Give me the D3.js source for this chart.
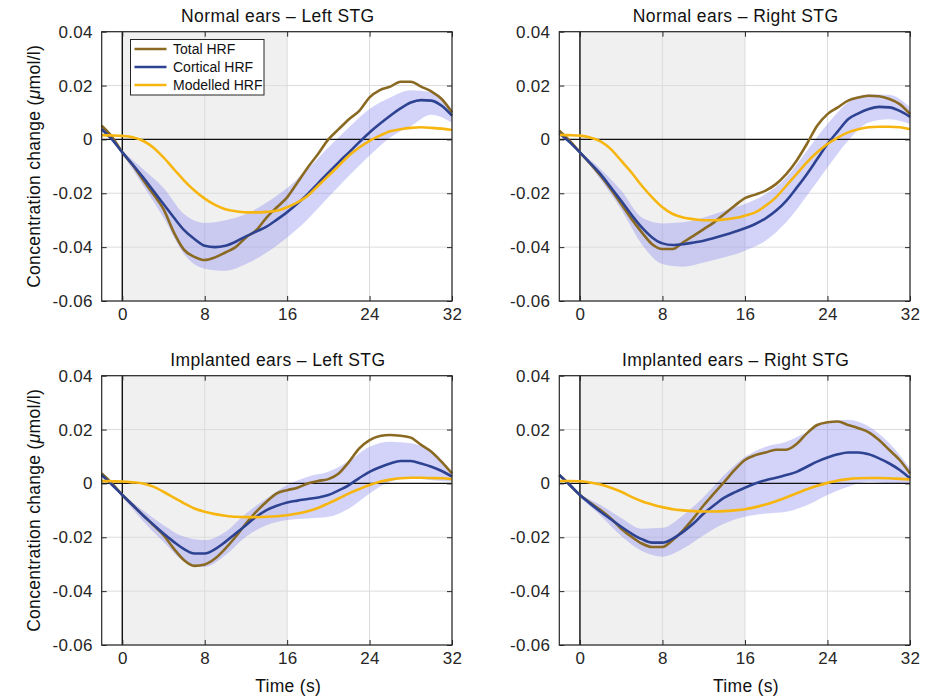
<!DOCTYPE html>
<html>
<head>
<meta charset="utf-8">
<script src="https://cdn.jsdelivr.net/npm/d3@7"></script>
<style>
  html, body { margin: 0; padding: 0; background: #fff; }
  svg { display: block; font-family: "Liberation Sans", Arial, sans-serif; }
</style>
</head>
<body>
<svg id="chart" width="938" height="697"></svg>
<script>
// Haemodynamic response functions, [time (s), concentration change (µmol/l)]
const xTicks = [0, 8, 16, 24, 32];
const yTicks = [-0.06, -0.04, -0.02, 0, 0.02, 0.04];
const stimulus = [0, 16];
const seriesNames = ["Total HRF", "Cortical HRF", "Modelled HRF"];
const titles = ["Normal ears \u2013 Left STG", "Normal ears \u2013 Right STG",
                "Implanted ears \u2013 Left STG", "Implanted ears \u2013 Right STG"];

// Normal ears, left STG
const nlTotal = [[-2,0.0051],[-1,0.001],[0,-0.0048],[1,-0.0095],[2,-0.015],[3,-0.0203],[4,-0.0259],[5,-0.0345],[6,-0.041],[7,-0.0436],[8,-0.0448],[9,-0.0438],[10,-0.042],[11,-0.040],[12,-0.0364],[13,-0.0337],[14,-0.029],[15,-0.0252],[16,-0.0215],[17,-0.016],[18,-0.0104],[19,-0.0054],[20,0.0],[21,0.0038],[22,0.0075],[23,0.0106],[24,0.0156],[25,0.0183],[26,0.0196],[27,0.0214],[28,0.0214],[29,0.0196],[30,0.0178],[31,0.015],[32,0.010]];
const nlCortical = [[-2,0.0038],[-1,0.0],[0,-0.0048],[1,-0.0093],[2,-0.014],[3,-0.019],[4,-0.024],[5,-0.029],[6,-0.0337],[7,-0.037],[8,-0.0395],[9,-0.040],[10,-0.0395],[11,-0.038],[12,-0.036],[13,-0.0342],[14,-0.0324],[15,-0.0298],[16,-0.027],[17,-0.0238],[18,-0.0203],[19,-0.0163],[20,-0.0123],[21,-0.0085],[22,-0.0048],[23,-0.001],[24,0.0026],[25,0.0058],[26,0.0088],[27,0.0115],[28,0.0137],[29,0.0146],[30,0.0144],[31,0.0125],[32,0.0088]];
const nlBand = [[-2,0.0033,0.0043],[0,-0.0055,-0.004],[2,-0.017,-0.011],[4,-0.029,-0.018],[6,-0.0426,-0.0277],[8,-0.048,-0.031],[10,-0.0488,-0.030],[12,-0.0463,-0.0277],[14,-0.042,-0.0234],[16,-0.0364,-0.018],[18,-0.0296,-0.011],[20,-0.0215,-0.003],[22,-0.0135,0.0045],[24,-0.006,0.0113],[26,0.0007,0.0156],[28,0.005,0.0183],[30,0.0092,0.0175],[32,0.0062,0.0113]];
const nlModel = [[-2,0.0016],[-1,0.0015],[0,0.0013],[1,0.0008],[2,-0.0005],[3,-0.003],[4,-0.0067],[5,-0.011],[6,-0.0153],[7,-0.019],[8,-0.022],[9,-0.0243],[10,-0.0259],[11,-0.0267],[12,-0.0271],[13,-0.0271],[14,-0.0269],[15,-0.0265],[16,-0.0252],[17,-0.0234],[18,-0.0209],[19,-0.0172],[20,-0.0135],[21,-0.0098],[22,-0.006],[23,-0.003],[24,-0.0005],[25,0.0014],[26,0.003],[27,0.0038],[28,0.0043],[29,0.0045],[30,0.0043],[31,0.004],[32,0.0035]];

// Normal ears, right STG
const nrTotal = [[-2,0.0032],[-1,-0.0005],[0,-0.0048],[1,-0.009],[2,-0.0135],[3,-0.0185],[4,-0.024],[5,-0.0295],[6,-0.0345],[7,-0.0389],[8,-0.0407],[9,-0.0407],[10,-0.0382],[11,-0.0358],[12,-0.0333],[13,-0.0308],[14,-0.0277],[15,-0.0246],[16,-0.0218],[17,-0.0205],[18,-0.019],[19,-0.0166],[20,-0.0129],[21,-0.0079],[22,-0.0017],[23,0.0051],[24,0.0094],[25,0.0119],[26,0.0144],[27,0.0156],[28,0.0162],[29,0.016],[30,0.015],[31,0.0131],[32,0.0094]];
const nrCortical = [[-2,0.0022],[-1,-0.001],[0,-0.0048],[1,-0.0088],[2,-0.0129],[3,-0.0178],[4,-0.0228],[5,-0.028],[6,-0.0327],[7,-0.0364],[8,-0.0386],[9,-0.0392],[10,-0.0389],[11,-0.0383],[12,-0.0376],[13,-0.0366],[14,-0.0355],[15,-0.0343],[16,-0.033],[17,-0.0314],[18,-0.0293],[19,-0.0265],[20,-0.0228],[21,-0.018],[22,-0.0129],[23,-0.0073],[24,-0.0017],[25,0.003],[26,0.0075],[27,0.0097],[28,0.0113],[29,0.0121],[30,0.0119],[31,0.0106],[32,0.0084]];
const nrBand = [[-2,0.0015,0.003],[0,-0.0052,-0.0044],[2,-0.015,-0.011],[4,-0.026,-0.019],[6,-0.0389,-0.029],[8,-0.0463,-0.0312],[10,-0.0473,-0.0308],[12,-0.0457,-0.029],[14,-0.0438,-0.0265],[16,-0.0413,-0.024],[18,-0.0376,-0.0203],[20,-0.0308,-0.0141],[22,-0.0209,-0.0042],[24,-0.0104,0.0057],[26,-0.0005,0.0137],[28,0.0063,0.0168],[30,0.0075,0.0166],[32,0.0057,0.0119]];
const nrModel = [[-2,0.0017],[-1,0.0016],[0,0.0014],[1,0.0007],[2,-0.0007],[3,-0.0036],[4,-0.0079],[5,-0.0123],[6,-0.0172],[7,-0.0215],[8,-0.0252],[9,-0.0277],[10,-0.029],[11,-0.0296],[12,-0.03],[13,-0.03],[14,-0.0297],[15,-0.0292],[16,-0.0283],[17,-0.0271],[18,-0.0246],[19,-0.0215],[20,-0.0172],[21,-0.0129],[22,-0.0085],[23,-0.0048],[24,-0.0017],[25,0.0007],[26,0.0026],[27,0.0038],[28,0.0045],[29,0.0047],[30,0.0047],[31,0.0045],[32,0.0038]];

// Implanted ears, left STG
const ilTotal = [[-2,0.0037],[-1,0.0],[0,-0.0043],[1,-0.008],[2,-0.0118],[3,-0.0155],[4,-0.0192],[5,-0.0242],[6,-0.0285],[7,-0.0306],[8,-0.0301],[9,-0.0279],[10,-0.0242],[11,-0.0198],[12,-0.0149],[13,-0.0105],[14,-0.0068],[15,-0.0037],[16,-0.0025],[17,-0.0016],[18,0.0],[19,0.0009],[20,0.0016],[21,0.0037],[22,0.008],[23,0.013],[24,0.0161],[25,0.0176],[26,0.018],[27,0.0177],[28,0.017],[29,0.0143],[30,0.0118],[31,0.008],[32,0.0037]];
const ilCortical = [[-2,0.0031],[-1,-0.0005],[0,-0.0043],[1,-0.008],[2,-0.0118],[3,-0.0152],[4,-0.0186],[5,-0.0217],[6,-0.0244],[7,-0.026],[8,-0.026],[9,-0.0244],[10,-0.0217],[11,-0.0186],[12,-0.0155],[13,-0.0124],[14,-0.0099],[15,-0.0083],[16,-0.0071],[17,-0.0064],[18,-0.0058],[19,-0.0052],[20,-0.0043],[21,-0.0026],[22,-0.0006],[23,0.002],[24,0.0043],[25,0.006],[26,0.0074],[27,0.0083],[28,0.0083],[29,0.0074],[30,0.0062],[31,0.0046],[32,0.0025]];
const ilBand = [[-2,0.0028,0.0035],[0,-0.005,-0.0038],[2,-0.014,-0.010],[4,-0.0217,-0.0155],[6,-0.029,-0.0198],[8,-0.031,-0.021],[10,-0.0267,-0.018],[12,-0.0198,-0.0112],[14,-0.0155,-0.0056],[16,-0.0136,-0.0006],[18,-0.013,0.0025],[20,-0.0124,0.0043],[22,-0.0093,0.0083],[24,-0.0037,0.0136],[26,0.0006,0.0155],[28,0.0019,0.0149],[30,0.0012,0.0118],[32,0.0006,0.0043]];
const ilModel = [[-2,0.0009],[-1,0.0008],[0,0.0007],[1,0.0004],[2,0.0],[3,-0.0012],[4,-0.0031],[5,-0.0053],[6,-0.0074],[7,-0.0093],[8,-0.0105],[9,-0.0114],[10,-0.012],[11,-0.0124],[12,-0.0125],[13,-0.0125],[14,-0.0124],[15,-0.0122],[16,-0.0118],[17,-0.0112],[18,-0.0103],[19,-0.0091],[20,-0.0074],[21,-0.0056],[22,-0.0037],[23,-0.0021],[24,-0.0006],[25,0.0006],[26,0.0014],[27,0.0019],[28,0.0021],[29,0.0021],[30,0.002],[31,0.0019],[32,0.0016]];

// Implanted ears, right STG
const irTotal = [[-2,0.0031],[-1,-0.0005],[0,-0.0043],[1,-0.0072],[2,-0.0099],[3,-0.013],[4,-0.0168],[5,-0.0198],[6,-0.0223],[7,-0.0236],[8,-0.0236],[9,-0.021],[10,-0.0174],[11,-0.013],[12,-0.0081],[13,-0.0037],[14,0.0006],[15,0.005],[16,0.0087],[17,0.0105],[18,0.0115],[19,0.0125],[20,0.0125],[21,0.0146],[22,0.0186],[23,0.0217],[24,0.0227],[25,0.023],[26,0.0217],[27,0.0205],[28,0.019],[29,0.0161],[30,0.0124],[31,0.0087],[32,0.0037]];
const irCortical = [[-2,0.0031],[-1,-0.0005],[0,-0.0043],[1,-0.0075],[2,-0.0105],[3,-0.0133],[4,-0.0161],[5,-0.0186],[6,-0.0207],[7,-0.022],[8,-0.022],[9,-0.0205],[10,-0.018],[11,-0.0149],[12,-0.0112],[13,-0.0081],[14,-0.0053],[15,-0.0033],[16,-0.0016],[17,0.0],[18,0.0012],[19,0.0021],[20,0.0031],[21,0.0043],[22,0.0062],[23,0.0081],[24,0.0096],[25,0.0108],[26,0.0115],[27,0.0115],[28,0.0108],[29,0.0093],[30,0.0074],[31,0.005],[32,0.0019]];
const irBand = [[-2,0.0028,0.0035],[0,-0.005,-0.0038],[2,-0.012,-0.008],[4,-0.0195,-0.0128],[6,-0.0251,-0.0168],[8,-0.0272,-0.0165],[10,-0.0242,-0.0118],[12,-0.0192,-0.005],[14,-0.0149,0.0031],[16,-0.0124,0.0099],[18,-0.0112,0.0136],[20,-0.0105,0.0155],[22,-0.0081,0.019],[24,-0.0043,0.023],[26,-0.0012,0.0236],[28,0.0006,0.0211],[30,0.0,0.0149],[32,0.0,0.0056]];
const irModel = [[-2,0.0009],[-1,0.0009],[0,0.0008],[1,0.0003],[2,-0.0004],[3,-0.0016],[4,-0.0031],[5,-0.005],[6,-0.0066],[7,-0.0078],[8,-0.0088],[9,-0.0096],[10,-0.01],[11,-0.0103],[12,-0.0104],[13,-0.0104],[14,-0.0103],[15,-0.01],[16,-0.0096],[17,-0.0088],[18,-0.0078],[19,-0.0066],[20,-0.0052],[21,-0.0037],[22,-0.0022],[23,-0.0009],[24,0.0002],[25,0.0011],[26,0.0016],[27,0.0019],[28,0.002],[29,0.002],[30,0.0019],[31,0.0017],[32,0.0015]];

const colors = { total: "#8a6a22", cortical: "#2d4392", model: "#f6b60f", band: "#8c8cf0" };

const panels = [
  { title: titles[0], total: nlTotal, cortical: nlCortical, band: nlBand, model: nlModel, col: 0, row: 0 },
  { title: titles[1], total: nrTotal, cortical: nrCortical, band: nrBand, model: nrModel, col: 1, row: 0 },
  { title: titles[2], total: ilTotal, cortical: ilCortical, band: ilBand, model: ilModel, col: 0, row: 1 },
  { title: titles[3], total: irTotal, cortical: irCortical, band: irBand, model: irModel, col: 1, row: 1 }
];

const colX = [[101.7, 452], [559.3, 910]];
const rowY = [[31.7, 301], [375.7, 645]];

const svg = d3.select("#chart");
const fmt = d => d === 0 ? "0" : d.toFixed(2);

panels.forEach((p, i) => {
  const [x0, x1] = colX[p.col];
  const [y0, y1] = rowY[p.row];
  const x = d3.scaleLinear().domain([-2, 32]).range([x0, x1]);
  const y = d3.scaleLinear().domain([-0.06, 0.04]).range([y1, y0]);
  const g = svg.append("g");

  // stimulus period
  g.append("rect")
    .attr("x", x(stimulus[0])).attr("y", y0)
    .attr("width", x(stimulus[1]) - x(stimulus[0])).attr("height", y1 - y0)
    .attr("fill", "#f0f0f0");

  // grid
  g.selectAll(".gx").data(xTicks).join("line")
    .attr("x1", d => x(d)).attr("x2", d => x(d)).attr("y1", y0).attr("y2", y1)
    .attr("stroke", "#dcdcdc").attr("stroke-width", 1);
  g.selectAll(".gy").data(yTicks).join("line")
    .attr("x1", x0).attr("x2", x1).attr("y1", d => y(d)).attr("y2", d => y(d))
    .attr("stroke", "#dcdcdc").attr("stroke-width", 1);

  // standard error band of the cortical HRF
  g.append("path").datum(p.band)
    .attr("d", d3.area().curve(d3.curveMonotoneX)
      .x(d => x(d[0])).y0(d => y(d[1])).y1(d => y(d[2])))
    .attr("fill", colors.band).attr("fill-opacity", 0.38);

  // zero reference lines
  g.append("line").attr("x1", x0).attr("x2", x1).attr("y1", y(0)).attr("y2", y(0))
    .attr("stroke", "#111").attr("stroke-width", 1.4);
  g.append("line").attr("x1", x(0)).attr("x2", x(0)).attr("y1", y0).attr("y2", y1)
    .attr("stroke", "#111").attr("stroke-width", 1.4);

  const line = d3.line().curve(d3.curveMonotoneX).x(d => x(d[0])).y(d => y(d[1]));
  [["total", p.total], ["cortical", p.cortical], ["model", p.model]].forEach(([k, data]) => {
    g.append("path").datum(data).attr("d", line)
      .attr("fill", "none").attr("stroke", colors[k]).attr("stroke-width", 2.6)
      .attr("stroke-linejoin", "round");
  });

  // axes with inward ticks on all four sides
  const axB = g.append("g").attr("transform", `translate(0,${y1})`)
    .call(d3.axisBottom(x).tickValues(xTicks).tickSizeInner(-5).tickSizeOuter(0).tickPadding(7).tickFormat(d3.format("d")));
  const axT = g.append("g").attr("transform", `translate(0,${y0})`)
    .call(d3.axisTop(x).tickValues(xTicks).tickSizeInner(-5).tickSizeOuter(0).tickFormat(""));
  const axL = g.append("g").attr("transform", `translate(${x0},0)`)
    .call(d3.axisLeft(y).tickValues(yTicks).tickSizeInner(-5).tickSizeOuter(0).tickPadding(9).tickFormat(fmt));
  const axR = g.append("g").attr("transform", `translate(${x1},0)`)
    .call(d3.axisRight(y).tickValues(yTicks).tickSizeInner(-5).tickSizeOuter(0).tickFormat(""));
  [axB, axT, axL, axR].forEach(a => {
    a.select(".domain").remove();
    a.selectAll("line").attr("stroke", "#262626");
    a.selectAll("text").attr("fill", "#262626").style("font-size", "17px")
      .style("letter-spacing", "0.3px")
      .style("font-family", "'Liberation Sans', Arial, sans-serif");
  });

  // box
  g.append("rect").attr("x", x0).attr("y", y0).attr("width", x1 - x0).attr("height", y1 - y0)
    .attr("fill", "none").attr("stroke", "#262626").attr("stroke-width", 1.2);

  // title
  g.append("text").attr("x", (x0 + x1) / 2 + 1).attr("y", y0 - 10)
    .attr("text-anchor", "middle").attr("fill", "#111").style("font-size", "17.5px")
    .style("letter-spacing", "0.4px")
    .text(p.title);

  if (p.col === 0) {
    const t = g.append("text")
      .attr("transform", `translate(40,${(y0 + y1) / 2}) rotate(-90)`)
      .attr("text-anchor", "middle").attr("fill", "#111").style("font-size", "17.5px")
      .style("letter-spacing", "0.3px");
    t.append("tspan").text("Concentration change (");
    t.append("tspan").style("font-style", "italic").text("\u03bc");
    t.append("tspan").text("mol/l)");
  }
  if (p.row === 1) {
    g.append("text").attr("x", x(16) + 1).attr("y", 692)
      .attr("text-anchor", "middle").attr("fill", "#111").style("font-size", "17.5px")
      .style("letter-spacing", "0.3px")
      .text("Time (s)");
  }

  if (i === 0) {
    const lg = g.append("g").attr("transform", "translate(130.5,39.5)");
    lg.append("rect").attr("width", 133.5).attr("height", 55.5)
      .attr("fill", "#fff").attr("stroke", "#262626").attr("stroke-width", 1);
    const keys = ["total", "cortical", "model"];
    seriesNames.forEach((name, j) => {
      const yy = 9.5 + j * 18;
      lg.append("line").attr("x1", 4).attr("x2", 36).attr("y1", yy).attr("y2", yy)
        .attr("stroke", colors[keys[j]]).attr("stroke-width", 2.6);
      lg.append("text").attr("x", 42.5).attr("y", yy + 4.8).attr("fill", "#111")
        .style("font-size", "14px").text(name);
    });
  }
});
</script>
</body>
</html>
